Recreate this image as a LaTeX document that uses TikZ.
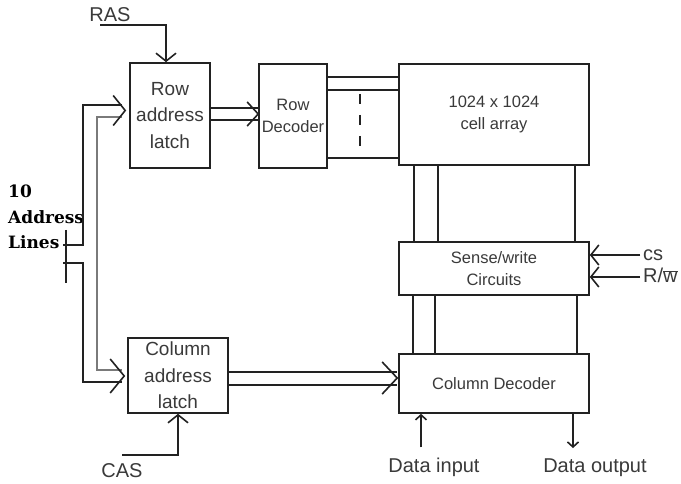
\documentclass[tikz,border=0pt]{standalone}
\usepackage{fontspec}
\setmainfont{Liberation Sans}
\newfontfamily\addrfont{DejaVu Serif}
\usetikzlibrary{positioning,calc,arrows.meta}
\definecolor{inkgray}{HTML}{3a3a3a}
\definecolor{wiregray}{HTML}{222222}
\definecolor{busgray}{HTML}{7a7a7a}

\tikzset{
  blockbox/.style={draw=wiregray, line width=1.6pt, inner sep=0pt, align=center, text=inkgray},
  latchtxt/.style={font=\fontsize{19}{26.5}\selectfont},
  boxtxt/.style={font=\fontsize{16.5}{22}\selectfont},
  lbl/.style={inner sep=0pt, text=inkgray, font=\fontsize{20}{24}\selectfont},
  wire/.style={draw=wiregray, line width=1.6pt},
  greywire/.style={draw=busgray, line width=2.8pt},
  sig/.style={wire, -{Straight Barb[length=8pt, width=20pt]}},
  smallsig/.style={wire, -{Straight Barb[length=5pt, width=11pt]}},
}

\begin{document}
\begin{tikzpicture}[x=1pt, y=-1pt]
  \fill[white] (0,0) rectangle (681,484);
  \useasboundingbox (0,0) rectangle (681,484);

  % Blocks
  \node[blockbox, latchtxt, minimum width=80pt, minimum height=105pt] (rowlatch) at (170,115.5) {Row\\address\\latch};
  \node[blockbox, boxtxt, minimum width=68pt, minimum height=104pt] (rowdec) at (293,116) {Row\\Decoder};
  \node[blockbox, boxtxt, minimum width=190pt, minimum height=101pt] (array) at (494,114.5) {1024 x 1024\\cell array};
  \node[blockbox, boxtxt, minimum width=190pt, minimum height=53pt] (sense) at (494,268.5) {Sense/write\\Circuits};
  \node[blockbox, boxtxt, minimum width=190pt, minimum height=59pt] (coldec) at (494,383.5) {Column Decoder};
  \node[blockbox, latchtxt, minimum width=100pt, minimum height=75pt] (collatch) at (178,375.5) {Column\\address\\latch};

  % Labels
  \node[lbl, anchor=base] (raslbl) at (110,22) {RAS};
  \node[lbl, anchor=base] (caslbl) at (122,477) {CAS};
  \node[lbl, anchor=base west] (cslbl) at (643,261) {cs};
  \node[lbl, anchor=base west] (rwlbl) at (643,283) {R/$\overline{\mbox{w}}$};
  \node[lbl, anchor=base] (dinlbl) at (434,472) {Data input};
  \node[lbl, anchor=base] (doutlbl) at (595,472) {Data output};
  \node[lbl, anchor=north west, align=left, text=black,
        font=\addrfont\bfseries\fontsize{17}{25.5}\selectfont] (addrlbl) at (8,185) {10\\Address\\Lines};

  % RAS / CAS strobes
  \coordinate (rasin) at (100,25);
  \draw[sig] (rasin) -| ($(rowlatch.north)+(-4,0)$);
  \coordinate (casin) at (122,455);
  \draw[sig] (casin) -| (collatch.south);

  % Address bus
  \coordinate (busA) at (63,245);
  \coordinate (busB) at (63,263);
  \coordinate (ticktop) at (66,230);
  \coordinate (tickbot) at (66,283);
  \coordinate (rowbar) at ($(rowlatch.west)+(-4,-5)$);
  \coordinate (colbar) at ($(collatch.west)+(-3,0.5)$);
  \draw[wire] (ticktop) -- (tickbot);
  \draw[wire] (busA) -- (83,245) |- ($(rowbar)+(-3,-5.5)$);
  \draw[wire] (busB) -- (83,263) |- ($(colbar)+(-2,6)$);
  \draw[greywire] ($(rowbar)+(-3,6.5)$) -| (97,240) |- ($(colbar)+(-2,-6)$);
  \draw[wire] ($(rowbar)+(-12,-15)$) -- (rowbar) -- ($(rowbar)+(-12,15)$);
  \draw[wire] ($(colbar)+(-14,-17)$) -- (colbar) -- ($(colbar)+(-14,17)$);

  % Latch to decoder buses
  \draw[wire] ($(rowlatch.east)+(0,-7.5)$) -- ($(rowdec.west)+(0,-8)$);
  \draw[wire] ($(rowlatch.east)+(0,4.5)$) -- ($(rowdec.west)+(0,4)$);
  \draw[wire] ($(rowdec.west)+(-11,-14)$) -- ($(rowdec.west)+(0,-2)$) -- ($(rowdec.west)+(-11,10)$);
  \draw[wire] ($(collatch.east)+(0,-3.5)$) -- ($(coldec.west)+(-1,-11.5)$);
  \draw[wire] ($(collatch.east)+(0,9.5)$) -- ($(coldec.west)+(-1,1.5)$);
  \draw[wire] ($(coldec.west)+(-16,-21.5)$) -- ($(coldec.west)+(-1,-5.5)$) -- ($(coldec.west)+(-16,10.5)$);

  % Word lines and bit lines
  \foreach \y in {77,90,158} \draw[wire] (rowdec.east |- 0,\y) -- (array.west |- 0,\y);
  \draw[wire, dash pattern=on 10pt off 11pt] (360,94) -- (360,155);
  \foreach \x in {414,438,575} \draw[wire] (array.south -| \x,0) -- (sense.north -| \x,0);
  \foreach \x in {413,435,577} \draw[wire] (sense.south -| \x,0) -- (coldec.north -| \x,0);

  % Control and data
  \coordinate (csin) at ($(cslbl.base west)+(-3,-6)$);
  \coordinate (rwin) at ($(rwlbl.base west)+(-3,-6)$);
  \draw[sig] (csin) -- (sense.east |- csin);
  \draw[sig] (rwin) -- (sense.east |- rwin);
  \coordinate (dinpt) at ($(dinlbl.north)+(-13,-10)$);
  \coordinate (doutpt) at ($(doutlbl.north)+(-22,-10)$);
  \draw[smallsig] (dinpt) -- (coldec.south -| dinpt);
  \draw[smallsig] (coldec.south -| doutpt) -- (doutpt);
\end{tikzpicture}
\end{document}
